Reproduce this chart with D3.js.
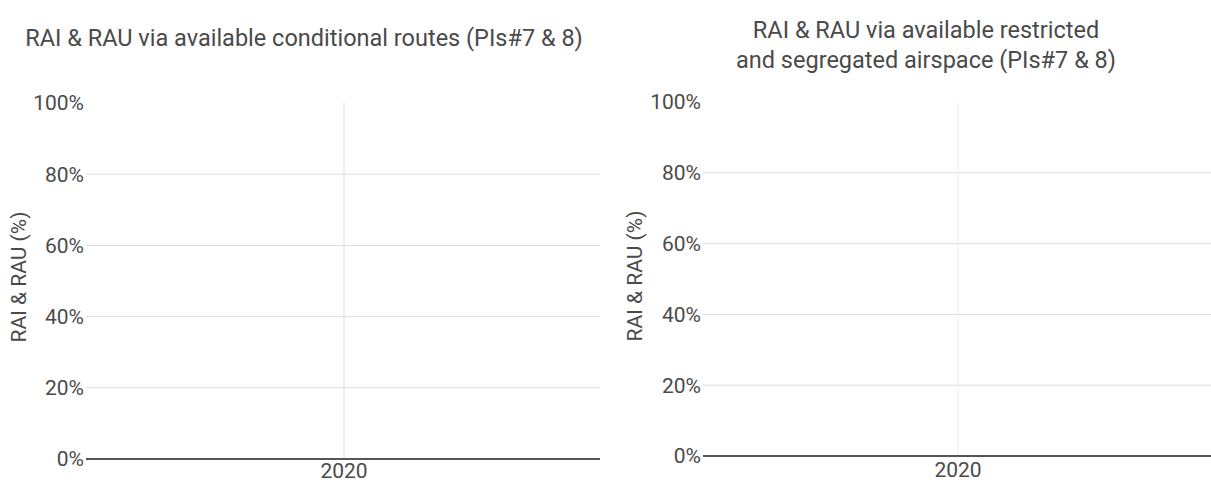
<!DOCTYPE html>
<html><head><meta charset="utf-8">
<script src="https://cdn.jsdelivr.net/npm/d3@7"></script>
<style>
html,body{margin:0;padding:0;background:#fff;}
svg{display:block;font-family:Roboto,"Noto Sans",sans-serif;}
</style></head>
<body>
<svg id="chart" width="1211" height="482"></svg>
<script>
const categories = ["2020"];
const yTicks = [0, 20, 40, 60, 80, 100];
const raiConditionalRoutes = [];   // no data shown
const raiRestrictedAirspace = [];  // no data shown
const titles = [
  ["RAI & RAU via available conditional routes (PIs#7 & 8)"],
  ["RAI & RAU via available restricted", "and segregated airspace (PIs#7 & 8)"]
];
const yAxisTitle = "RAI & RAU (%)";

const svg = d3.select("#chart");
const textColor = "#4a4a4a";

const panels = [
  {x0: 88, x1: 600, yTop: 103, yBot: 459, titleX: 304, titleY: [46], labelX: 19, labelY: 277, vColor: "#ddd", data: raiConditionalRoutes, title: titles[0]},
  {x0: 705, x1: 1211, yTop: 102, yBot: 456, titleX: 926, titleY: [38, 68], labelX: 635, labelY: 276, vColor: "#eee", data: raiRestrictedAirspace, title: titles[1]}
];

panels.forEach(p => {
  const g = svg.append("g");
  const x = d3.scaleBand().domain(categories).range([p.x0, p.x1]);
  const y = d3.scaleLinear().domain([0, 100]).range([p.yBot, p.yTop]);

  const t = g.append("text").attr("text-anchor", "middle").attr("fill", textColor)
    .attr("font-size", 23.5);
  p.title.forEach((line, i) => {
    t.append("tspan").attr("x", p.titleX).attr("y", p.titleY[i]).text(line);
  });

  g.selectAll(".hg").data(yTicks.filter(d => d > 0 && d < 100)).join("line")
    .attr("x1", p.x0 - 2).attr("x2", p.x1)
    .attr("y1", d => y(d)).attr("y2", d => y(d))
    .attr("stroke", "#ddd").attr("stroke-width", 1);

  g.selectAll(".vg").data(categories).join("line")
    .attr("x1", d => x(d) + x.bandwidth() / 2).attr("x2", d => x(d) + x.bandwidth() / 2)
    .attr("y1", y(100)).attr("y2", y(0))
    .attr("stroke", p.vColor).attr("stroke-width", 1);

  g.selectAll(".yl").data(yTicks).join("text")
    .attr("x", p.x0 - 4).attr("y", d => y(d)).attr("dy", "0.35em")
    .attr("text-anchor", "end").attr("fill", textColor).attr("font-size", 21)
    .text(d => d + "%");

  g.append("line").attr("x1", p.x0 - 2).attr("x2", p.x1)
    .attr("y1", y(0)).attr("y2", y(0)).attr("stroke", "#555").attr("stroke-width", 2);

  g.selectAll(".xl").data(categories).join("text")
    .attr("x", d => x(d) + x.bandwidth() / 2).attr("y", Math.min(y(0) + 21, 478))
    .attr("text-anchor", "middle").attr("fill", textColor).attr("font-size", 21)
    .text(d => d);

  g.append("text").attr("transform", `translate(${p.labelX},${p.labelY}) rotate(-90)`)
    .attr("text-anchor", "middle").attr("fill", textColor).attr("font-size", 21)
    .attr("dy", "0.35em").text(yAxisTitle);
});
</script>
</body></html>
